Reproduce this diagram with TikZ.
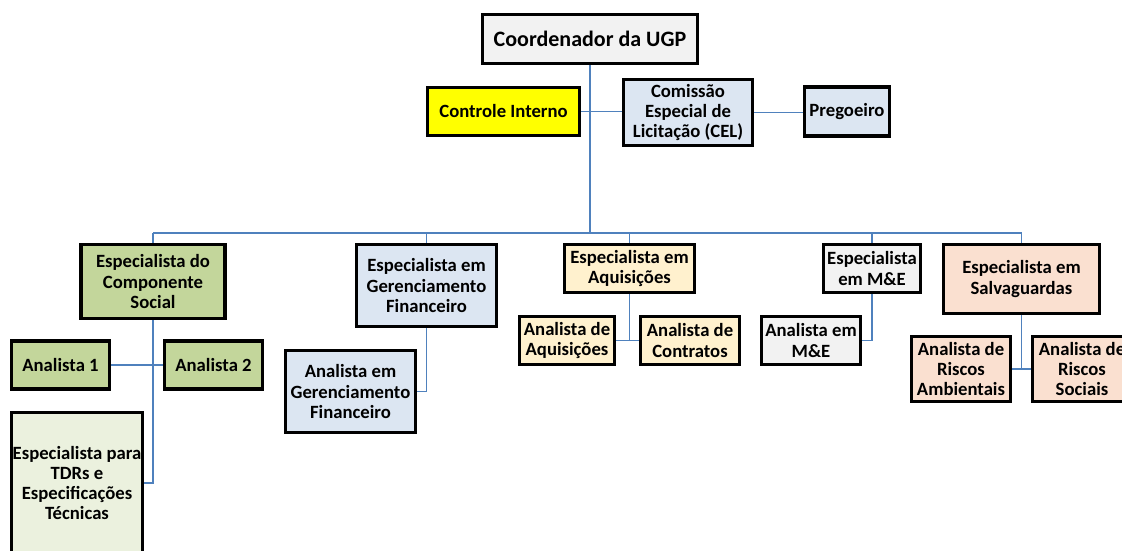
\documentclass[tikz,border=0pt]{standalone}
\usepackage{fontspec}
\setmainfont{Carlito}
\usetikzlibrary{backgrounds}
\definecolor{linkblue}{RGB}{79,129,189}
\definecolor{boxgray}{RGB}{242,242,242}
\definecolor{boxblue}{RGB}{220,230,242}
\definecolor{boxgreen}{RGB}{195,214,155}
\definecolor{boxpalegreen}{RGB}{235,241,222}
\definecolor{boxcream}{RGB}{255,241,206}
\definecolor{boxpeach}{RGB}{250,224,208}
\definecolor{boxyellow}{RGB}{255,255,0}
\begin{document}
\begin{tikzpicture}[x=1pt,y=-1pt,
    box/.style={draw=black, line width=3.2pt, inner sep=0pt, align=center, font=\bfseries\fontsize{18.7}{20.3}\selectfont},
    link/.style={draw=linkblue, line width=1.9pt}]
\useasboundingbox (0,0) rectangle (1122,550);
% top
\node[box, fill=boxgray, minimum width=215, minimum height=49, font=\bfseries\fontsize{22}{24}\selectfont] (coord) at (590,39) {Coordenador da UGP};
\node[box, fill=boxyellow, minimum width=152, minimum height=48] (ci) at (503.5,111.5) {Controle Interno};
\node[box, fill=boxblue, minimum width=129, minimum height=66] (cel) at (688,112.5) {Comissão\\Especial de\\Licitação (CEL)};
\node[box, fill=boxblue, minimum width=85, minimum height=49] (preg) at (847,111.5) {Pregoeiro};
% especialistas
\node[box, fill=boxgreen, minimum width=144, minimum height=74] (ecs) at (153,281.5) {Especialista do\\Componente\\Social};
\node[box, fill=boxblue, minimum width=140, minimum height=82] (egf) at (426.5,285.5) {Especialista em\\Gerenciamento\\Financeiro};
\node[box, fill=boxcream, minimum width=130, minimum height=48] (eaq) at (629.5,268.5) {Especialista em\\Aquisições};
\node[box, fill=boxgray, minimum width=97, minimum height=48] (eme) at (872,268.5) {Especialista\\em M\&E};
\node[box, fill=boxpeach, minimum width=156, minimum height=69] (esv) at (1021.5,279) {Especialista em\\Salvaguardas};
% analistas
\node[box, fill=boxgreen, minimum width=98, minimum height=48] (an1) at (60.5,365) {Analista 1};
\node[box, fill=boxgreen, minimum width=98, minimum height=48] (an2) at (213.5,365) {Analista 2};
\node[box, fill=boxpalegreen, minimum width=131, minimum height=141] (tdr) at (77,483) {Especialista para\\TDRs e\\Especificações\\Técnicas};
\node[box, fill=boxblue, minimum width=130, minimum height=82] (agf) at (350.5,391.5) {Analista em\\Gerenciamento\\Financeiro};
\node[box, fill=boxcream, minimum width=95, minimum height=48] (aaq) at (567,340.5) {Analista de\\Aquisições};
\node[box, fill=boxcream, minimum width=99, minimum height=48] (acon) at (690,340.5) {Analista de\\Contratos};
\node[box, fill=boxgray, minimum width=99, minimum height=48] (ame) at (811,340.5) {Analista em\\M\&E};
\node[box, fill=boxpeach, minimum width=99, minimum height=65] (ara) at (961,369) {Analista de\\Riscos\\Ambientais};
\node[box, fill=boxpeach, minimum width=99, minimum height=65] (ars) at (1082,369) {Analista de\\Riscos\\Sociais};
\coordinate (bus) at (590,233);
\begin{scope}[on background layer]
\draw[link] (coord.south) -- (coord.south |- bus);
\draw[link] (ci.east) -- (ci.east -| cel.west);
\draw[link] (cel.east) -- (cel.east -| preg.west);
\draw[link] (ecs.north |- bus) -- (esv.north |- bus);
\foreach \n in {ecs,egf,eaq,eme,esv}
    \draw[link] (\n.north) -- (\n.north |- bus);
\draw[link] (ecs.south) -- (ecs.south |- tdr.east) -- (tdr.east);
\draw[link] (an1.east) -- (an2.west);
\draw[link] (egf.south) -- (egf.south |- agf.east) -- (agf.east);
\draw[link] (eaq.south) -- (eaq.south |- aaq.east);
\draw[link] (aaq.east) -- (acon.west);
\draw[link] (eme.south) -- (eme.south |- ame.east) -- (ame.east);
\draw[link] (esv.south) -- (esv.south |- ara.east);
\draw[link] (ara.east) -- (ars.west);
\end{scope}
\end{tikzpicture}
\end{document}
